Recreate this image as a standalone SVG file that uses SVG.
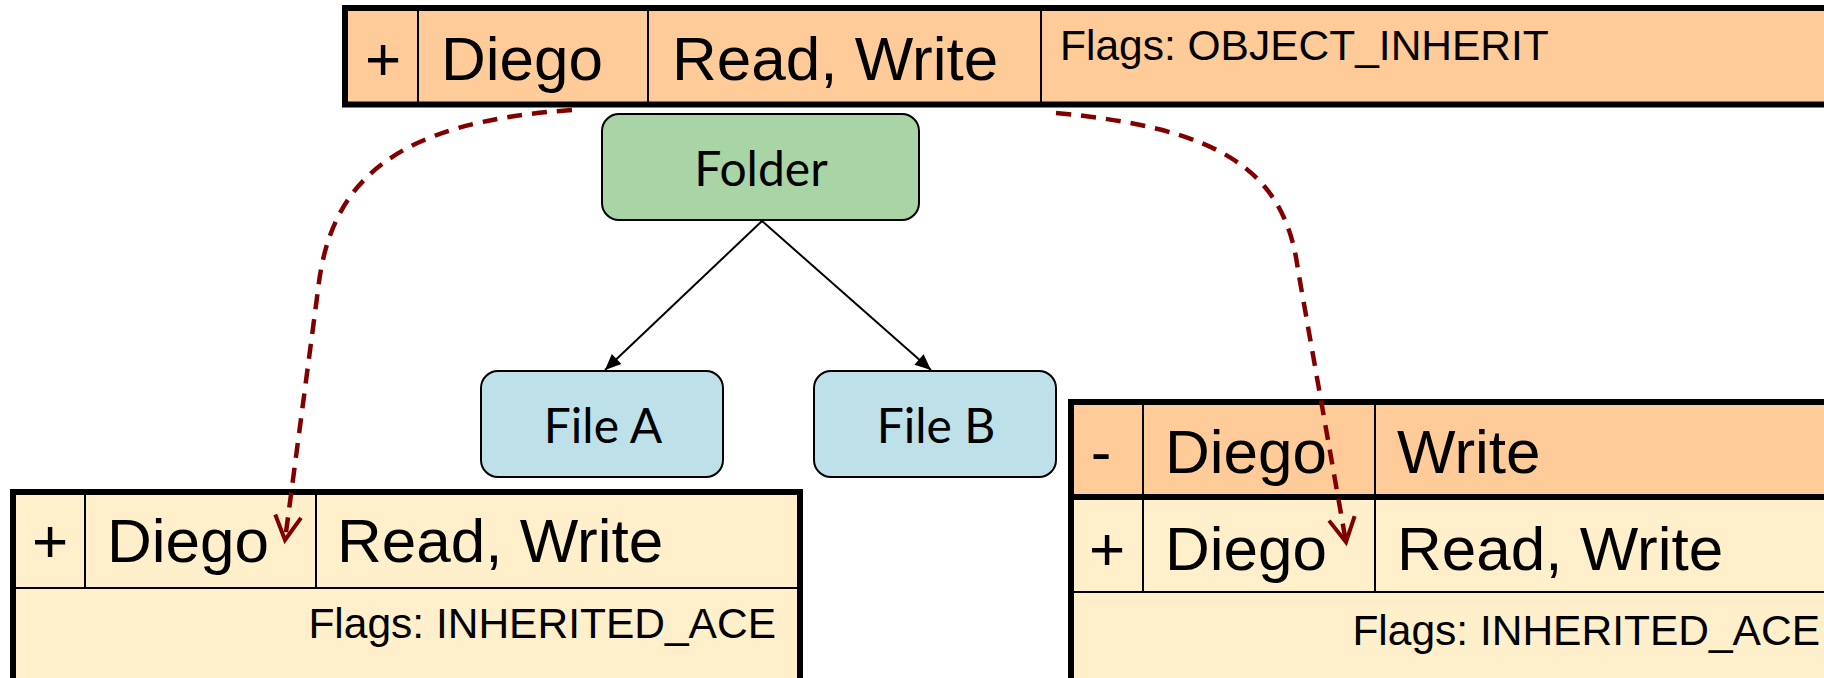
<svg xmlns="http://www.w3.org/2000/svg" width="1824" height="678" viewBox="0 0 1824 678">
<defs>
<marker id="open" markerUnits="userSpaceOnUse" markerWidth="44" markerHeight="44" refX="0" refY="0" viewBox="-32 -22 44 44" orient="auto">
<path d="M-24,-13 L0,0 L-24,13" fill="none" stroke="#800000" stroke-width="4"/>
</marker>
<marker id="solid" markerUnits="userSpaceOnUse" markerWidth="30" markerHeight="30" refX="0" refY="0" viewBox="-20 -10 30 20" orient="auto">
<path d="M-16,-7 L0,0 L-16,7 Z" fill="#000"/>
</marker>
</defs>
<style>
.orange{fill:#FFCB98}
.light{fill:#FFEFCA}
.outer{fill:none;stroke:#000;stroke-width:6}
.thin{stroke:#000;stroke-width:2}
.big{font-family:"Liberation Sans",Arial,sans-serif;font-size:62px;fill:#000}
.flag{font-family:"Liberation Sans",Arial,sans-serif;font-size:42.5px;fill:#000}
.node{stroke:#000;stroke-width:2}
.nt{font-family:Lato,"Open Sans",sans-serif;font-size:48px;fill:#000;text-anchor:middle}
.dash{fill:none;stroke:#800000;stroke-width:4.5;stroke-dasharray:15 10}
</style>
<rect width="1824" height="678" fill="#fff"/>

<g id="top-ace">
<rect class="orange" x="345" y="8" width="1490" height="97"/>
<line class="thin" x1="418" y1="8" x2="418" y2="105"/>
<line class="thin" x1="648" y1="8" x2="648" y2="105"/>
<line class="thin" x1="1041" y1="8" x2="1041" y2="105"/>
<rect class="outer" x="345" y="8" width="1490" height="96.5"/>
<text class="big" x="383" y="80" text-anchor="middle">+</text>
<text class="big" x="441" y="80">Diego</text>
<text class="big" x="672" y="80">Read, Write</text>
<text class="flag" x="1060" y="60">Flags: OBJECT_INHERIT</text>
</g>

<g id="folder">
<rect class="node" x="602" y="114" width="317" height="106" rx="17" fill="#A8D4A6"/>
<text class="nt" x="761" y="186">Folder</text>
</g>
<g id="file-a">
<rect class="node" x="481" y="371" width="242" height="106" rx="17" fill="#BEE0E9"/>
<text class="nt" x="603" y="443">File A</text>
</g>
<g id="file-b">
<rect class="node" x="814" y="371" width="242" height="106" rx="17" fill="#BEE0E9"/>
<text class="nt" x="936" y="443">File B</text>
</g>

<g id="left-ace">
<rect class="light" x="13" y="492" width="787" height="200"/>
<line class="thin" x1="85" y1="492" x2="85" y2="588"/>
<line class="thin" x1="316" y1="492" x2="316" y2="588"/>
<line class="thin" x1="13" y1="588" x2="800" y2="588"/>
<rect class="outer" x="13" y="492" width="787" height="200"/>
<text class="big" x="50" y="562" text-anchor="middle">+</text>
<text class="big" x="107" y="562">Diego</text>
<text class="big" x="337" y="562">Read, Write</text>
<text class="flag" x="776" y="638" text-anchor="end">Flags: INHERITED_ACE</text>
</g>

<g id="right-ace">
<rect class="orange" x="1071" y="402" width="770" height="95"/>
<rect class="light" x="1071" y="497" width="770" height="200"/>
<line class="thin" x1="1143" y1="402" x2="1143" y2="592"/>
<line class="thin" x1="1375" y1="402" x2="1375" y2="592"/>
<line class="thin" x1="1071" y1="592" x2="1830" y2="592"/>
<line stroke="#000" stroke-width="6" x1="1071" y1="497" x2="1830" y2="497"/>
<rect class="outer" x="1071" y="402" width="770" height="300"/>
<text class="big" x="1101" y="473" text-anchor="middle">-</text>
<text class="big" x="1165" y="473">Diego</text>
<text class="big" x="1397" y="473">Write</text>
<text class="big" x="1107" y="570" text-anchor="middle">+</text>
<text class="big" x="1165" y="570">Diego</text>
<text class="big" x="1397" y="570">Read, Write</text>
<text class="flag" x="1820" y="645" text-anchor="end">Flags: INHERITED_ACE</text>
</g>

<g id="connectors">
<line class="thin" x1="762" y1="221" x2="605" y2="370" marker-end="url(#solid)"/>
<line class="thin" x1="762" y1="221" x2="931" y2="370" marker-end="url(#solid)"/>
<path class="dash" d="M572,110 C395,122 330,180 318,290 L285,540" marker-end="url(#open)"/>
<path class="dash" d="M1056,113 C1220,128 1285,170 1298,270 L1346,542" marker-end="url(#open)"/>
</g>
</svg>
